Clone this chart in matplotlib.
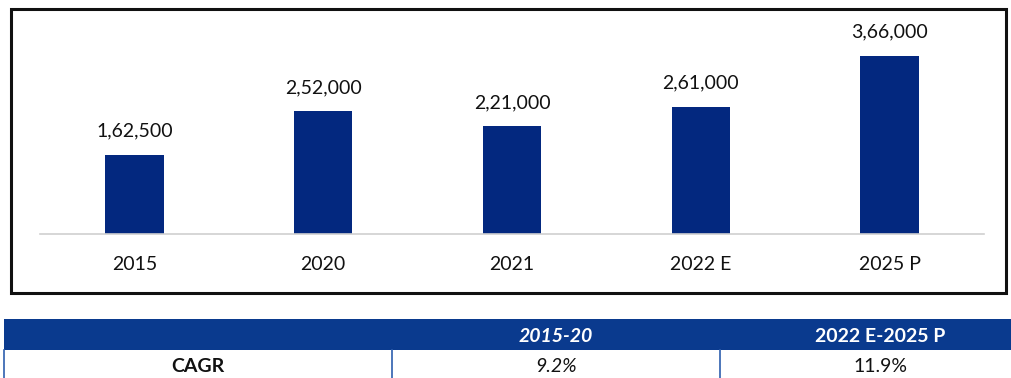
import matplotlib.pyplot as plt
from matplotlib.patches import Rectangle

# Market size by year
years = ['2015', '2020', '2021', '2022 E', '2025 P']
values = [162500, 252000, 221000, 261000, 366000]
value_labels = ['1,62,500', '2,52,000', '2,21,000', '2,61,000', '3,66,000']

# CAGR table
table_header = ['', '2015-20', '2022 E-2025 P']
table_row = ['CAGR', '9.2%', '11.9%']

BAR_COLOR = '#03287f'
HEADER_COLOR = '#0a3a8e'
LINE_BLUE = '#2d5fae'

W, H = 1011, 378
plt.rcParams['font.family'] = ['Lato', 'DejaVu Sans']

fig = plt.figure(figsize=(W / 100, H / 100), dpi=100)


def frac(x0, y0, x1, y1):
    """pixel box (top-left origin) -> figure fraction rect"""
    return [x0 / W, 1 - y1 / H, (x1 - x0) / W, (y1 - y0) / H]


# outer frame of the chart
fig.patches.append(Rectangle((11 / W, 1 - 293 / H), (1006 - 11) / W, (293 - 9) / H,
                             transform=fig.transFigure, fill=False,
                             edgecolor='#111111', linewidth=2.2))

# bar chart
ax = fig.add_axes(frac(40, 10, 984, 234))
x = range(len(years))
ax.bar(x, values, width=0.31, color=BAR_COLOR)
ax.set_xlim(-0.5, len(years) - 0.5)
ax.set_ylim(0, 224 / 0.000487)
for s in ['top', 'left', 'right']:
    ax.spines[s].set_visible(False)
ax.spines['bottom'].set_color('#d0d0d0')
ax.spines['bottom'].set_linewidth(1.2)
ax.set_yticks([])
ax.set_xticks(list(x))
ax.set_xticklabels(years, fontsize=14, color='#111111')
ax.tick_params(axis='x', length=0, pad=16)
for xi, v, lab in zip(x, values, value_labels):
    ax.annotate(lab, (xi, v), xytext=(0, 17), textcoords='offset points',
                ha='center', va='center', fontsize=14, color='#111111')

# CAGR table below the chart
tax = fig.add_axes([0, 0, 1, 1])
tax.set_xlim(0, W)
tax.set_ylim(H, 0)
tax.axis('off')
col_edges = [4, 392, 720, W + 5]
tax.add_patch(Rectangle((4, 319), W, 31, facecolor=HEADER_COLOR, edgecolor='none'))
for xe in col_edges[:-1]:
    tax.plot([xe, xe], [350, H + 2], color=LINE_BLUE, lw=1.2)
for i in range(3):
    cx = (col_edges[i] + col_edges[i + 1]) / 2 if i < 2 else 880
    if table_header[i]:
        tax.text(cx, 336, table_header[i], ha='center', va='center', fontsize=14,
                 color='white', fontweight='bold',
                 fontstyle='italic' if i == 1 else 'normal')
    tax.text(cx, 366, table_row[i], ha='center', va='center', fontsize=14,
             color='#111111', fontweight='bold' if i == 0 else 'normal',
             fontstyle='italic' if i == 1 else 'normal')

fig.savefig('out.png', dpi=100)
